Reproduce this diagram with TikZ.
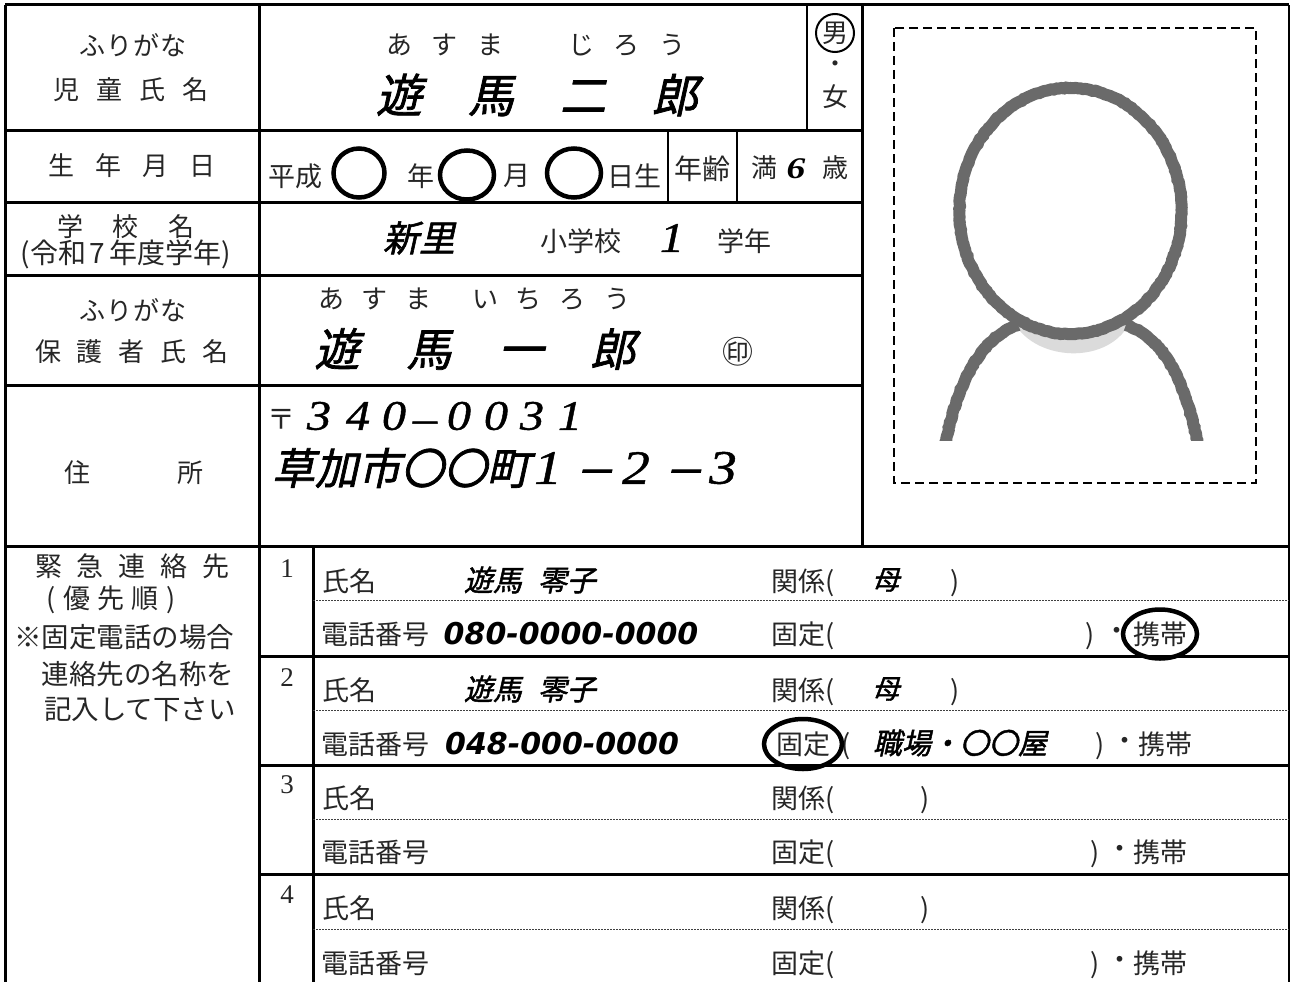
\documentclass[tikz,border=0pt]{standalone}
\usepackage{fontspec}
\usetikzlibrary{decorations.pathmorphing}
\setmainfont{Noto Sans CJK JP}
\newfontfamily\handf[FakeSlant=0.22,FakeBold=1.6]{Noto Sans CJK JP}
\newfontfamily\seriff{Liberation Serif}
\newfontfamily\digf[FakeStretch=1.15,FakeBold=1]{Liberation Serif}
\newfontfamily\digbf[FakeStretch=1.25]{Liberation Serif}
\newfontfamily\telf{DejaVu Sans}
\definecolor{ink}{HTML}{262626}
\definecolor{photo}{HTML}{6A6A6A}
\newcommand\gp[1]{\hspace{#1pt}}
\tikzset{
  x=1pt,y=-1pt,
  lbl/.style={inner sep=0pt,outer sep=0pt,text=ink,font=\fontsize{#1}{#1}\selectfont},
  hnd/.style={inner sep=0pt,outer sep=0pt,text=black,font=\handf\fontsize{#1}{#1}\selectfont},
  dig/.style={inner sep=0pt,outer sep=0pt,text=black,font=\digf\itshape\fontsize{#1}{#1}\selectfont},
  digb/.style={inner sep=0pt,outer sep=0pt,text=black,font=\digbf\bfseries\itshape\fontsize{#1}{#1}\selectfont},
  tel/.style={inner sep=0pt,outer sep=0pt,text=black,font=\telf\bfseries\itshape\fontsize{#1}{#1}\selectfont},
  ser/.style={inner sep=0pt,outer sep=0pt,text=ink,font=\seriff\fontsize{#1}{#1}\selectfont},
  rule/.style={line width=3pt,black},
  thinrule/.style={line width=2pt,black},
  dotrule/.style={line width=1pt,black!75,dash pattern=on 2pt off 1pt},
  ring/.style={line width=4.5pt,black},
  photoline/.style={line width=12pt,photo,decorate,decoration={random steps,segment length=2.5pt,amplitude=.5pt}},
}
\begin{document}
\begin{tikzpicture}
\useasboundingbox (0,0) rectangle (1290,982);
\fill[white] (0,0) rectangle (1290,982);
% --- table rules
\draw[rule] (5,5) -- (1289,5);
\draw[rule] (5,5) -- (5,982);
\draw[rule] (259,5) -- (259,982);
\draw[rule] (313,546) -- (313,982);
\draw[rule] (862,5) -- (862,546);
\draw[thinrule] (1289,5) -- (1289,982);
\draw[thinrule] (807,5) -- (807,130);
\draw[thinrule] (668,130) -- (668,202);
\draw[thinrule] (737,130) -- (737,202);
\draw[rule] (5,130) -- (862,130);
\draw[rule] (5,202) -- (862,202);
\draw[rule] (5,275) -- (862,275);
\draw[rule] (5,385) -- (862,385);
\draw[rule] (5,546) -- (1289,546);
\draw[rule] (259,656) -- (1289,656);
\draw[rule] (259,765) -- (1289,765);
\draw[rule] (259,874) -- (1289,874);
\draw[dotrule] (313,600) -- (1289,600);
\draw[dotrule] (313,710) -- (1289,710);
\draw[dotrule] (313,819) -- (1289,819);
\draw[dotrule] (313,929) -- (1289,929);
% --- photo
\draw[line width=2pt,black,dash pattern=on 9pt off 5pt] (894,28) rectangle (1256,483);
\fill[black!14] (1012,318) .. controls (1030,362) and (1112,368) .. (1132,318) -- cycle;
\fill[white] (1070.5,211) ellipse [x radius=111,y radius=123];
\draw[photoline] (1070.5,211) ellipse [x radius=111,y radius=123];
\begin{scope}
\clip (900,60) rectangle (1250,440);
\draw[photoline] (945,445) .. controls (955,395) and (975,340) .. (1018,325);
\draw[photoline] (1198,445) .. controls (1188,395) and (1170,340) .. (1126,325);
\end{scope}
% --- row 1
\node[lbl=26] (kana1) at (133,45) {ふ\gp{1}り\gp{1}が\gp{1}な};
\node[lbl=26] (child) at (131,90) {児\gp{17}童\gp{17}氏\gp{17}名};
\node[lbl=26] (kana1v) at (536,45) {あ\gp{20}す\gp{20}ま\gp{64}じ\gp{20}ろ\gp{20}う};
\node[hnd=46] (name1) at (537,95) {遊\gp{46}馬\gp{46}二\gp{46}郎};
\node[lbl=26] (male) at (835,33) {男};
\node[lbl=24] (dot) at (835,67) {・};
\node[lbl=26] (female) at (835,97) {女};
\draw[line width=2pt,black] (male.center) circle (19);
% --- row 2
\node[lbl=26] (birth) at (132,166) {生\gp{21}年\gp{21}月\gp{21}日};
\node[lbl=27] (heisei) at (295,176) {平成};
\node[lbl=27] (nen) at (421,176) {年};
\node[lbl=27] (tsuki) at (517,176) {月};
\node[lbl=27] (nichi) at (634,176) {日生};
\draw[ring] (359,173) ellipse [x radius=25.5,y radius=24.5];
\draw[ring] (467,175) ellipse [x radius=27,y radius=24.5];
\draw[ring] (574,173) ellipse [x radius=27,y radius=24.5];
\node[lbl=28] (age) at (702,169) {年齢};
\node[lbl=26] (man) at (764,168) {満};
\node[digb=30] (six) at (796,169) {6};
\node[lbl=26] (sai) at (835,168) {歳};
% --- row 3
\node[lbl=26] (school) at (126,227) {学\gp{30}校\gp{30}名};
\node[lbl=28] (year) at (126,254) {(令和\gp{3}7\gp{5}年度学年)};
\node[hnd=36] (shinri) at (419,238) {新里};
\node[lbl=27] (sho) at (581,241) {小学校};
\node[dig=42] (grade) at (672,238) {1};
\node[lbl=27] (gakunen) at (744,241) {学年};
% --- row 4
\node[lbl=26] (kana2) at (133,310) {ふ\gp{1}り\gp{1}が\gp{1}な};
\node[lbl=26] (parent) at (132,352) {保\gp{16}護\gp{16}者\gp{16}氏\gp{16}名};
\node[lbl=26] (kana2v) at (474,299) {あ\gp{18}す\gp{18}ま\gp{40}い\gp{18}ち\gp{18}ろ\gp{18}う};
\node[hnd=45] (name2) at (475,349) {遊\gp{47}馬\gp{47}一\gp{47}郎};
\node[lbl=31] (seal) at (737.5,352) {㊞};
% --- row 5
\node[lbl=26] (addr) at (134,473) {住\gp{87}所};
\node[lbl=28] (post) at (281,419) {〒};
\node[dig=42] (p1) at (319,416) {3};
\node[dig=42] (p2) at (358,416) {4};
\node[dig=42] (p3) at (394,416) {0};
\node[dig=42] (p4) at (425,427) {–};
\node[dig=42] (p5) at (459,416) {0};
\node[dig=42] (p6) at (496,416) {0};
\node[dig=42] (p7) at (532,416) {3};
\node[dig=42] (p8) at (570,416) {1};
\node[hnd=43] (city) at (401,468) {草加市〇〇町};
\node[dig=48] (a1) at (548,468) {1};
\node[hnd=40] (a2) at (594,478) {－};
\node[dig=48] (a3) at (636,468) {2};
\node[hnd=40] (a4) at (683,478) {－};
\node[dig=48] (a5) at (723,468) {3};
% --- emergency heading
\node[lbl=27] (em1) at (132.5,566) {緊\gp{15}急\gp{15}連\gp{15}絡\gp{15}先};
\node[lbl=27] (em2) at (111,600) {(\gp{8}優\gp{7}先\gp{7}順\gp{8})};
\node[lbl=27.5] (em3) at (124,637) {※固定電話の場合};
\node[lbl=27.5] (em4) at (138,674) {連絡先の名称を};
\node[lbl=27.5] (em5) at (140,710) {記入して下さい};
% --- numbers
\node[ser=27] (n1) at (287,569) {1};
\node[ser=27] (n2) at (287,678) {2};
\node[ser=27] (n3) at (287,785) {3};
\node[ser=27] (n4) at (287,895) {4};
% --- entry 1
\node[lbl=27] (nm1) at (349,581) {氏名};
\node[hnd=29] (val1) at (530,580) {遊馬\gp{16}零子};
\node[lbl=27] (rel1) at (803,583) {関係(};
\node[hnd=27] (mom1) at (886,580) {母};
\node[lbl=27] (relc1) at (955,583) {)};
\node[lbl=27] (tel1) at (375,634) {電話番号};
\node[tel=30] (tv1) at (571,634) {080-0000-0000};
\node[lbl=27] (fix1) at (803,636) {固定(};
\node[lbl=27] (fixc1) at (1090,636) {)};
\node[lbl=27] (dot1) at (1117,634) {・};
\node[lbl=27] (mob1) at (1160,634) {携帯};
\draw[ring] (mob1.center) ellipse [x radius=37,y radius=24.5];
% --- entry 2
\node[lbl=27] (nm2) at (349,690) {氏名};
\node[hnd=29] (val2) at (530,689) {遊馬\gp{16}零子};
\node[lbl=27] (rel2) at (803,692) {関係(};
\node[hnd=27] (mom2) at (886,689) {母};
\node[lbl=27] (relc2) at (955,692) {)};
\node[lbl=27] (tel2) at (375,744) {電話番号};
\node[tel=30] (tv2) at (562,744) {048-000-0000};
\node[lbl=27] (fix2) at (803,744) {固定};
\node[lbl=27] (fixo2) at (846,746) {(};
\node[hnd=29] (work2) at (960,743) {職場・〇〇屋};
\node[lbl=27] (fixc2) at (1100,746) {)};
\node[lbl=27] (dot2) at (1125,744) {・};
\node[lbl=27] (mob2) at (1165,744) {携帯};
\draw[ring] (fix2.center) ellipse [x radius=39,y radius=25];
% --- entry 3
\node[lbl=27] (nm3) at (349,798) {氏名};
\node[lbl=27] (rel3) at (803,800) {関係(};
\node[lbl=27] (relc3) at (925,800) {)};
\node[lbl=27] (tel3) at (375,852) {電話番号};
\node[lbl=27] (fix3) at (803,854) {固定(};
\node[lbl=27] (fixc3) at (1095,854) {)};
\node[lbl=27] (dot3) at (1120,852) {・};
\node[lbl=27] (mob3) at (1160,852) {携帯};
% --- entry 4
\node[lbl=27] (nm4) at (349,908) {氏名};
\node[lbl=27] (rel4) at (803,910) {関係(};
\node[lbl=27] (relc4) at (925,910) {)};
\node[lbl=27] (tel4) at (375,963) {電話番号};
\node[lbl=27] (fix4) at (803,965) {固定(};
\node[lbl=27] (fixc4) at (1095,965) {)};
\node[lbl=27] (dot4) at (1120,963) {・};
\node[lbl=27] (mob4) at (1160,963) {携帯};
\end{tikzpicture}
\end{document}
